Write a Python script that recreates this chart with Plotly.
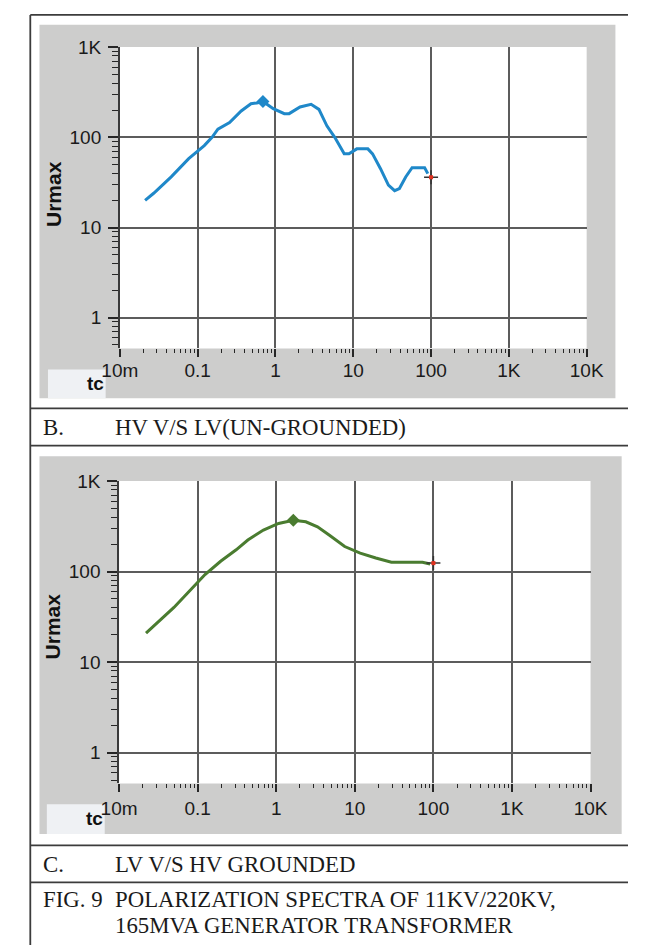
import plotly.graph_objects as go

# ---------------- data ----------------
# Panel B: HV V/S LV (un-grounded)
tc_b = [0.0211, 0.0272, 0.0457, 0.0767, 0.1216, 0.153, 0.182, 0.257, 0.363, 0.484,
        0.575, 0.69, 0.937, 1.30, 1.50, 2.07, 2.87, 3.62, 4.58, 5.78,
        7.65, 8.81, 11.1, 15.4, 17.7, 22.4, 28.3, 34.0, 39.2, 47.2,
        57.0, 82.7, 90.8]
urmax_b = [20, 24, 36.5, 58, 81, 100, 123, 146, 196, 236,
           240, 250, 208, 183, 183, 217, 232, 204, 134, 100,
           65.6, 65.6, 74.5, 74.5, 65.6, 44.9, 29.5, 25.6, 27.1, 36.4,
           46, 46, 39.6]
peak_b = ([0.69], [250])
cursor_b = ([100], [36])

# Panel C: LV V/S HV grounded
tc_c = [0.022, 0.0282, 0.0499, 0.0787, 0.124, 0.196, 0.309, 0.435, 0.687, 1.07,
        1.65, 2.38, 3.35, 4.71, 7.43, 11.7, 18.5, 29.2, 46, 72.6, 91]
urmax_c = [20.9, 25.3, 40.2, 61, 92.7, 130, 174, 223, 287, 340,
           369, 354, 312, 253, 189, 160, 141, 127, 127, 127, 121]
peak_c = ([1.65], [369])
cursor_c = ([100], [124])

x_tickvals = [0.01, 0.1, 1, 10, 100, 1000, 10000]
x_ticktext = ["10m", "0.1", "1", "10", "100", "1K", "10K"]
x_gridvals = [0.1, 1, 10, 100, 1000]
y_tickvals = [1, 10, 100, 1000]
y_ticktext = ["1", "10", "100", "1K"]

W, H = 645, 945


def px(x):
    return x / W


def py(y):
    return 1 - y / H


minor_x = [m * 10 ** e for e in range(-2, 4) for m in range(2, 10)]
minor_y = [m * 10 ** e for e in range(-1, 3) for m in range(2, 10) if m * 10 ** e > 0.45]

BLUE = "#1f88c9"
GREEN = "#4a7c30"
GRID = "#5c5c5c"
TICKC = "#262626"
TICKFONT = dict(family="Liberation Sans, Arial, sans-serif", size=19, color="#1a1a1a")

fig = go.Figure()


def add_panel(tx, uy, peak, cursor, color, xa, ya, xgrid):
    fig.add_trace(go.Scatter(x=tx, y=uy, mode="lines", line=dict(color=color, width=3),
                             xaxis=xa, yaxis=ya, showlegend=False, hoverinfo="skip"))
    fig.add_trace(go.Scatter(x=peak[0], y=peak[1], mode="markers",
                             marker=dict(symbol="diamond", size=10, color=color),
                             xaxis=xa, yaxis=ya, showlegend=False, hoverinfo="skip"))
    fig.add_trace(go.Scatter(x=cursor[0], y=cursor[1], mode="markers",
                             marker=dict(symbol="cross-thin-open", size=10, color="#333",
                                         line=dict(color="#333", width=1.5)),
                             xaxis=xa, yaxis=ya, showlegend=False, hoverinfo="skip"))
    fig.add_trace(go.Scatter(x=cursor[0], y=cursor[1], mode="markers",
                             marker=dict(symbol="square", size=4, color="#e0301e"),
                             xaxis=xa, yaxis=ya, showlegend=False, hoverinfo="skip"))
    fig.add_trace(go.Scatter(x=[], y=[], xaxis=xgrid, yaxis=ya, showlegend=False))


add_panel(tc_b, urmax_b, peak_b, cursor_b, BLUE, "x", "y", "x3")
add_panel(tc_c, urmax_c, peak_c, cursor_c, GREEN, "x2", "y2", "x4")


def xaxis_main(domain, anchor, standoff):
    return dict(type="log", range=[-2, 4], domain=domain, anchor=anchor,
                tickmode="array", tickvals=x_tickvals, ticktext=x_ticktext,
                ticks="outside", ticklen=8, tickwidth=1.6, tickcolor=TICKC,
                tickfont=TICKFONT, ticklabelstandoff=standoff,
                showgrid=False, zeroline=False, showline=False,
                minor=dict(tickmode="array", tickvals=minor_x, ticks="outside",
                           ticklen=4, tickwidth=1.3, tickcolor=TICKC, showgrid=False),
                fixedrange=True)


def xaxis_grid(domain, anchor, overlay):
    return dict(type="log", range=[-2, 4], domain=domain, anchor=anchor, overlaying=overlay,
                tickmode="array", tickvals=x_gridvals, showticklabels=False, ticks="",
                showgrid=True, gridcolor=GRID, gridwidth=1.7, zeroline=False,
                showline=False, fixedrange=True)


def yaxis_main(domain, anchor, rng):
    return dict(type="log", range=rng, domain=domain, anchor=anchor,
                tickmode="array", tickvals=y_tickvals, ticktext=y_ticktext,
                ticks="outside", ticklen=10, tickwidth=1.6, tickcolor=TICKC,
                tickfont=TICKFONT, ticklabelstandoff=3,
                showgrid=True, gridcolor=GRID, gridwidth=1.7, zeroline=False,
                showline=True, linecolor="#3a3a3a", linewidth=1.6,
                minor=dict(tickmode="array", tickvals=minor_y, ticks="outside",
                           ticklen=6, tickwidth=1.3, tickcolor=TICKC, showgrid=False),
                fixedrange=True)


# panel geometry (pixels)
p1 = dict(x0=107.7, x1=601.3, y0=37.5, y1=342.0)
p2 = dict(x0=106.9, x1=605.4, y0=476.0, y1=781.7)

dom_x1 = [px(p1["x0"]), px(p1["x1"])]
dom_y1 = [py(p1["y1"]), py(p1["y0"])]
dom_x2 = [px(p2["x0"]), px(p2["x1"])]
dom_y2 = [py(p2["y1"]), py(p2["y0"])]

fig.update_layout(
    width=W, height=H, margin=dict(l=0, r=0, t=0, b=0),
    paper_bgcolor="white", plot_bgcolor="white",
    xaxis=xaxis_main(dom_x1, "y", -3),
    yaxis=yaxis_main(dom_y1, "x", [-0.339, 3]),
    xaxis3=xaxis_grid(dom_x1, "y", "x"),
    xaxis2=xaxis_main(dom_x2, "y2", 0),
    yaxis2=yaxis_main(dom_y2, "x2", [-0.338, 3]),
    xaxis4=xaxis_grid(dom_x2, "y2", "x2"),
)

shapes = []
GRAY = "#cdcdcc"
LIGHT = "#eff1f4"
# grey instrument panels
for (gx0, gy0, gx1, gy1) in [(22.7, 15, 631.7, 392.3), (22.7, 451, 638.3, 832.7)]:
    shapes.append(dict(type="rect", xref="paper", yref="paper", x0=px(gx0), x1=px(gx1),
                       y0=py(gy1), y1=py(gy0), fillcolor=GRAY, line=dict(width=0), layer="below"))
# light "tc" boxes
for (bx0, by0, bx1, by1) in [(31.7, 363.3, 92.7, 392.3), (30.5, 802.7, 91.7, 832.7)]:
    shapes.append(dict(type="rect", xref="paper", yref="paper", x0=px(bx0), x1=px(bx1),
                       y0=py(by1), y1=py(by0), fillcolor=LIGHT, line=dict(width=0), layer="below"))
# white plot areas
for p in (p1, p2):
    shapes.append(dict(type="rect", xref="paper", yref="paper", x0=px(p["x0"]), x1=px(p["x1"]),
                       y0=py(p["y1"]), y1=py(p["y0"]), fillcolor="white", line=dict(width=0),
                       layer="below"))
# table frame lines
LINEC = "#3c3c3c"
shapes.append(dict(type="line", xref="paper", yref="paper", x0=px(13), x1=px(13),
                   y0=0, y1=py(5), line=dict(color=LINEC, width=1.8)))
for yy in [5, 402.7, 440.3, 844.3, 881.7]:
    shapes.append(dict(type="line", xref="paper", yref="paper", x0=px(13), x1=1,
                       y0=py(yy), y1=py(yy), line=dict(color=LINEC, width=1.8)))
fig.update_layout(shapes=shapes)

SERIF = dict(family="Liberation Serif, Times New Roman, serif", size=22.8, color="#1a1a1a")
LABB = dict(family="Liberation Sans, Arial, sans-serif", size=21, color="#111")
ann = []


def text(x, y, s, font, xanchor="left", angle=0):
    ann.append(dict(text=s, x=px(x), y=py(y), xref="paper", yref="paper",
                    xanchor=xanchor, yanchor="middle", showarrow=False, font=font,
                    textangle=angle))


text(24, 421.7, "B.", SERIF)
text(100, 421.7, "HV V/S LV(UN-GROUNDED)", SERIF)
text(24, 863.3, "C.", SERIF)
text(100, 863.3, "LV V/S HV GROUNDED", SERIF)
text(24, 899.3, "FIG. 9", SERIF)
text(100, 899.3, "POLARIZATION SPECTRA OF 11KV/220KV,", SERIF)
text(100, 925.5, "165MVA GENERATOR TRANSFORMER", SERIF)

text(37, 186, "<b>Urmax</b>", LABB, xanchor="center", angle=-90)
text(36, 623, "<b>Urmax</b>", LABB, xanchor="center", angle=-90)
TCF = dict(family="Liberation Sans, Arial, sans-serif", size=19, color="#111")
text(81.5, 377, "<b>tc</b>", TCF, xanchor="center")
text(80.5, 817, "<b>tc</b>", TCF, xanchor="center")

fig.update_layout(annotations=ann)

fig.write_html("out.html")
